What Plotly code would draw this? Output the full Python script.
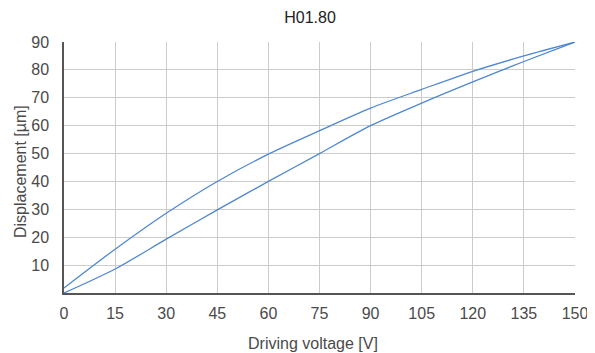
import plotly.graph_objects as go

voltage = [0, 15, 30, 45, 60, 75, 90, 105, 120, 135, 150]
rising = [0, 8.6, 19.3, 29.8, 40.0, 50.0, 60.0, 68.1, 75.7, 83.0, 90]
falling = [1.8, 15.7, 28.6, 40.0, 49.8, 58.2, 66.3, 73.0, 79.5, 85.0, 90]

x_ticks = [0, 15, 30, 45, 60, 75, 90, 105, 120, 135, 150]
y_ticks = [10, 20, 30, 40, 50, 60, 70, 80, 90]

line_color = "#4f87d1"
font_family = "Liberation Sans, Arial, sans-serif"
text_color = "#4a4a4a"

# page body has an 8px default margin, so the figure is sized to fit the 595x353 window
W, H = 587, 345
PL, PR, PT, PB = 56, 20, 34, 60
plot_w = W - PL - PR
plot_h = H - PT - PB

fig = go.Figure()
fig.add_trace(go.Scatter(x=voltage, y=rising, mode="lines",
                         line=dict(color=line_color, width=1.3, shape="spline", smoothing=0.8),
                         showlegend=False, hoverinfo="skip"))
fig.add_trace(go.Scatter(x=voltage, y=falling, mode="lines",
                         line=dict(color=line_color, width=1.3, shape="spline", smoothing=0.8),
                         showlegend=False, hoverinfo="skip"))

fig.update_layout(
    width=W, height=H,
    margin=dict(l=PL, r=PR, t=PT, b=PB, autoexpand=False),
    paper_bgcolor="white", plot_bgcolor="white",
    font=dict(family=font_family, size=16, color=text_color),
    title=dict(text="H01.80", x=(310 - 8) / W, xref="container", xanchor="center",
               y=1 - 9 / H, yref="container", yanchor="middle",
               font=dict(size=16, color="#222222")),
    annotations=[
        dict(text="Driving voltage [V]", xref="paper", yref="paper",
             x=(312.5 - 64) / plot_w, y=-(343 - 293) / plot_h,
             xanchor="center", yanchor="middle", showarrow=False,
             font=dict(size=16, color=text_color)),
        dict(text="Displacement [µm]", xref="paper", yref="paper",
             x=(20 - 64) / plot_w, y=(293 - 172) / plot_h, textangle=-90,
             xanchor="center", yanchor="middle", showarrow=False,
             font=dict(size=16, color=text_color)),
    ],
)
fig.update_xaxes(
    range=[0, 150], tickvals=x_ticks, ticktext=[str(v) for v in x_ticks],
    showgrid=True, gridcolor="#cccccc", gridwidth=1,
    showline=True, linecolor="#555555", linewidth=1.5,
    zeroline=False, ticks="", ticklabelstandoff=5, automargin=False,
)
fig.update_yaxes(
    range=[0, 90], tickvals=y_ticks, ticktext=[str(v) for v in y_ticks],
    showgrid=True, gridcolor="#cccccc", gridwidth=1,
    showline=True, linecolor="#555555", linewidth=1.5,
    zeroline=False, ticks="", ticklabelstandoff=10, automargin=False,
)

fig.write_html("out.html")
